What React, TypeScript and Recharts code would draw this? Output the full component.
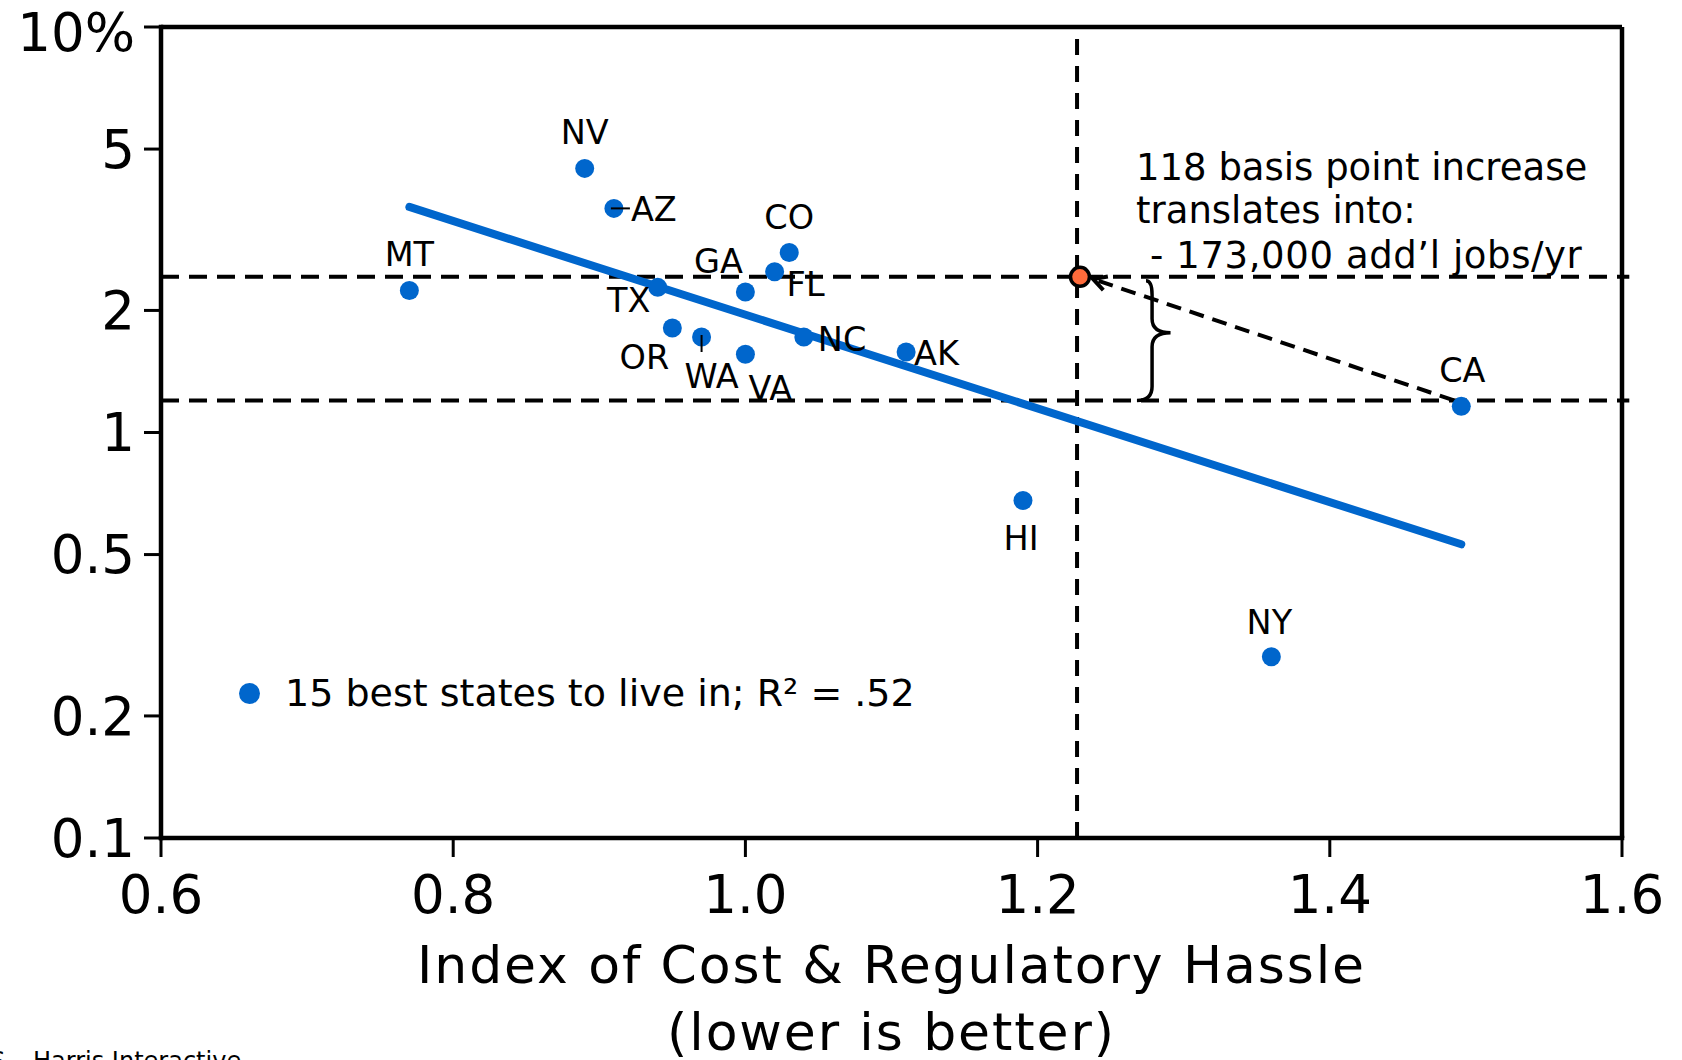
import React from 'react'
import {
  ScatterChart,
  Scatter,
  XAxis,
  YAxis,
  ReferenceLine,
  ReferenceDot,
  ReferenceArea,
  Legend,
} from 'recharts'

const FONT = '"DejaVu Sans", Verdana, sans-serif'
const BLUE = '#0066CC'
const ORANGE = '#FF6B3B'

// 15 best states to live in
const STATES = ['MT', 'NV', 'AZ', 'TX', 'OR', 'WA', 'GA', 'VA', 'FL', 'CO', 'NC', 'AK', 'HI', 'NY', 'CA']
const HASSLE_INDEX = [0.77, 0.89, 0.91, 0.94, 0.95, 0.97, 1.0, 1.0, 1.02, 1.03, 1.04, 1.11, 1.19, 1.36, 1.49]
const JOB_GROWTH = [2.24, 4.48, 3.57, 2.28, 1.81, 1.72, 2.22, 1.56, 2.49, 2.78, 1.72, 1.58, 0.68, 0.28, 1.16]

// fitted trend line (straight on the log axis)
const TREND_X = [0.77, 1.49]
const TREND_Y = [3.6, 0.53]

const X_TICKS = [0.6, 0.8, 1.0, 1.2, 1.4, 1.6]
const Y_TICKS = [0.1, 0.2, 0.5, 1, 2, 5, 10]

// CA moved over to the marker line
const MARKER_X = 1.227
const TARGET_X = 1.229
const UPPER_LEVEL = 2.42
const LOWER_LEVEL = 1.2

const stateData = STATES.map((state, i) => ({ state, x: HASSLE_INDEX[i], y: JOB_GROWTH[i] }))
const trendData = TREND_X.map((x, i) => ({ x, y: TREND_Y[i] }))

// where each state's label sits relative to its dot
const LABEL_POS: Record<string, { dx: number; dy: number; anchor: 'start' | 'middle' | 'end' }> = {
  MT: { dx: 0, dy: -24, anchor: 'middle' },
  NV: { dx: 0, dy: -24, anchor: 'middle' },
  AZ: { dx: 17, dy: 13, anchor: 'start' },
  TX: { dx: -29, dy: 25, anchor: 'middle' },
  OR: { dx: -28, dy: 41, anchor: 'middle' },
  WA: { dx: 10, dy: 51, anchor: 'middle' },
  GA: { dx: -27, dy: -19, anchor: 'middle' },
  VA: { dx: 25, dy: 46, anchor: 'middle' },
  FL: { dx: 12, dy: 24, anchor: 'start' },
  CO: { dx: 0, dy: -23, anchor: 'middle' },
  NC: { dx: 14, dy: 14, anchor: 'start' },
  AK: { dx: 8, dy: 13, anchor: 'start' },
  HI: { dx: -2, dy: 50, anchor: 'middle' },
  NY: { dx: -2, dy: -23, anchor: 'middle' },
  CA: { dx: 1, dy: -24, anchor: 'middle' },
}

const StateDot = (props: any) => {
  const { cx, cy, payload } = props
  const pos = LABEL_POS[payload.state]
  return (
    <g>
      <circle cx={cx} cy={cy} r={9.5} fill={BLUE} />
      {payload.state === 'AZ' && (
        <line x1={cx - 3} y1={cy} x2={cx + 16} y2={cy} stroke="#000" strokeWidth={2} />
      )}
      {payload.state === 'WA' && (
        <line x1={cx} y1={cy - 2} x2={cx} y2={cy + 15} stroke="#000" strokeWidth={2} />
      )}
      <text
        x={cx + pos.dx}
        y={cy + pos.dy}
        textAnchor={pos.anchor}
        fontSize={33.5}
        fontFamily={FONT}
        fill="#000"
      >
        {payload.state}
      </text>
    </g>
  )
}

const YTick = (props: any) => {
  const { x, y, payload } = props
  const top = payload.value === 10
  return (
    <text
      x={x}
      y={y}
      dy={top ? '0.45em' : '0.355em'}
      textAnchor="end"
      fontSize={53}
      fontFamily={FONT}
      fill="#000"
    >
      {top ? '10%' : String(payload.value)}
    </text>
  )
}

const ArrowShape = (props: any) => {
  const { x1, y1, x2, y2 } = props
  const ang = Math.atan2(y2 - y1, x2 - x1) + Math.PI
  const len = 15
  const p1 = [x2 + len * Math.cos(ang - 0.5), y2 + len * Math.sin(ang - 0.5)]
  const p2 = [x2 + len * Math.cos(ang + 0.5), y2 + len * Math.sin(ang + 0.5)]
  return (
    <g>
      <line x1={x1} y1={y1} x2={x2} y2={y2} stroke="#000" strokeWidth={4} strokeDasharray="15 9" />
      <polyline
        points={`${p1[0]},${p1[1]} ${x2},${y2} ${p2[0]},${p2[1]}`}
        fill="none"
        stroke="#000"
        strokeWidth={4}
      />
    </g>
  )
}

const BraceShape = (props: any) => {
  const { x, y, width: w, height: h } = props
  const sx = x + w * 0.45
  const mid = y + h / 2 - 6
  const d = [
    `M ${x + w * 0.27} ${y + 4}`,
    `Q ${sx} ${y + 4} ${sx} ${y + 18}`,
    `L ${sx} ${mid - 14}`,
    `Q ${sx} ${mid} ${x + w} ${mid}`,
    `Q ${sx} ${mid} ${sx} ${mid + 14}`,
    `L ${sx} ${y + h - 14}`,
    `Q ${sx} ${y + h} ${x} ${y + h}`,
  ].join(' ')
  return <path d={d} fill="none" stroke="#000" strokeWidth={3.5} />
}

const LegendContent = () => (
  <div style={{ display: 'flex', alignItems: 'center', height: 46, fontFamily: FONT }}>
    <span
      style={{
        display: 'inline-block',
        width: 21,
        height: 21,
        borderRadius: '50%',
        background: BLUE,
        marginRight: 25,
      }}
    />
    <span style={{ fontSize: 38, color: '#000', whiteSpace: 'nowrap' }}>
      15 best states to live in; R² = .52
    </span>
  </div>
)

export default function App() {
  return (
    <div
      style={{
        position: 'absolute',
        left: 0,
        top: 0,
        width: 1682,
        height: 1060,
        overflow: 'hidden',
        background: '#fff',
      }}
    >
      <ScatterChart
        width={1682}
        height={1060}
        margin={{ top: 27, right: 60, bottom: 122, left: 11 }}
      >
        <XAxis
          type="number"
          dataKey="x"
          domain={[0.6, 1.6]}
          ticks={X_TICKS}
          interval={0}
          allowDataOverflow
          height={100}
          tickSize={19}
          tickMargin={18}
          tickFormatter={(v: number) => v.toFixed(1)}
          tick={{ fontSize: 53, fill: '#000', fontFamily: FONT }}
          axisLine={{ stroke: '#000', strokeWidth: 4.5, strokeLinecap: 'square' }}
          tickLine={{ stroke: '#000', strokeWidth: 3 }}
        />
        <YAxis
          type="number"
          dataKey="y"
          scale="log"
          domain={[0.1, 10]}
          ticks={Y_TICKS}
          interval={0}
          allowDataOverflow
          width={150}
          tickSize={17}
          tickMargin={9}
          tick={YTick}
          axisLine={{ stroke: '#000', strokeWidth: 4.5, strokeLinecap: 'square' }}
          tickLine={{ stroke: '#000', strokeWidth: 3 }}
        />
        <ReferenceLine y={10} stroke="#000" strokeWidth={4.5} />
        <ReferenceLine x={1.6} stroke="#000" strokeWidth={4.5} />
        <ReferenceLine
          segment={[{ x: 0.6, y: UPPER_LEVEL }, { x: 1.605, y: UPPER_LEVEL }]}
          ifOverflow="visible"
          stroke="#000"
          strokeWidth={4}
          strokeDasharray="18 10"
        />
        <ReferenceLine
          segment={[{ x: 0.6, y: LOWER_LEVEL }, { x: 1.605, y: LOWER_LEVEL }]}
          ifOverflow="visible"
          stroke="#000"
          strokeWidth={4}
          strokeDasharray="18 10"
        />
        <ReferenceLine x={MARKER_X} stroke="#000" strokeWidth={4} strokeDasharray="16 11" />
        <ReferenceLine
          segment={[{ x: 1.485, y: LOWER_LEVEL }, { x: 1.238, y: 2.39 }]}
          ifOverflow="visible"
          shape={ArrowShape}
        />
        <ReferenceArea
          x1={1.268}
          x2={1.291}
          y1={LOWER_LEVEL}
          y2={UPPER_LEVEL}
          ifOverflow="visible"
          shape={BraceShape}
        />
        <Scatter
          data={trendData}
          line={{ stroke: BLUE, strokeWidth: 8, strokeLinecap: 'round' }}
          shape={() => <g />}
          isAnimationActive={false}
        />
        <Scatter data={stateData} shape={StateDot} isAnimationActive={false} />
        <ReferenceDot
          x={TARGET_X}
          y={UPPER_LEVEL}
          r={9.5}
          fill={ORANGE}
          stroke="#000"
          strokeWidth={3.5}
          ifOverflow="visible"
        />
        <Legend
          verticalAlign="middle"
          align="center"
          content={LegendContent}
          wrapperStyle={{ left: 239, top: 670, width: 760, height: 46 }}
        />
      </ScatterChart>

      <svg
        width={1682}
        height={1060}
        style={{ position: 'absolute', left: 0, top: 0, pointerEvents: 'none' }}
      >
        <g fontFamily={FONT} fill="#000">
          <text x={1136} y={180} fontSize={37}>118 basis point increase</text>
          <text x={1136} y={223} fontSize={37}>translates into:</text>
          <text x={1150} y={268} fontSize={37} letterSpacing={0.6}>- 173,000 add’l jobs/yr</text>
          <text x={891.5} y={983} fontSize={52} textAnchor="middle" letterSpacing={1.9}>
            Index of Cost &amp; Regulatory Hassle
          </text>
          <text x={891.5} y={1050} fontSize={52} textAnchor="middle" letterSpacing={1.9}>
            (lower is better)
          </text>
          <text y={1069} fontSize={24}>
            <tspan x={-10}>S,</tspan>
            <tspan x={33}>Harris Interactive</tspan>
          </text>
        </g>
      </svg>
    </div>
  )
}
